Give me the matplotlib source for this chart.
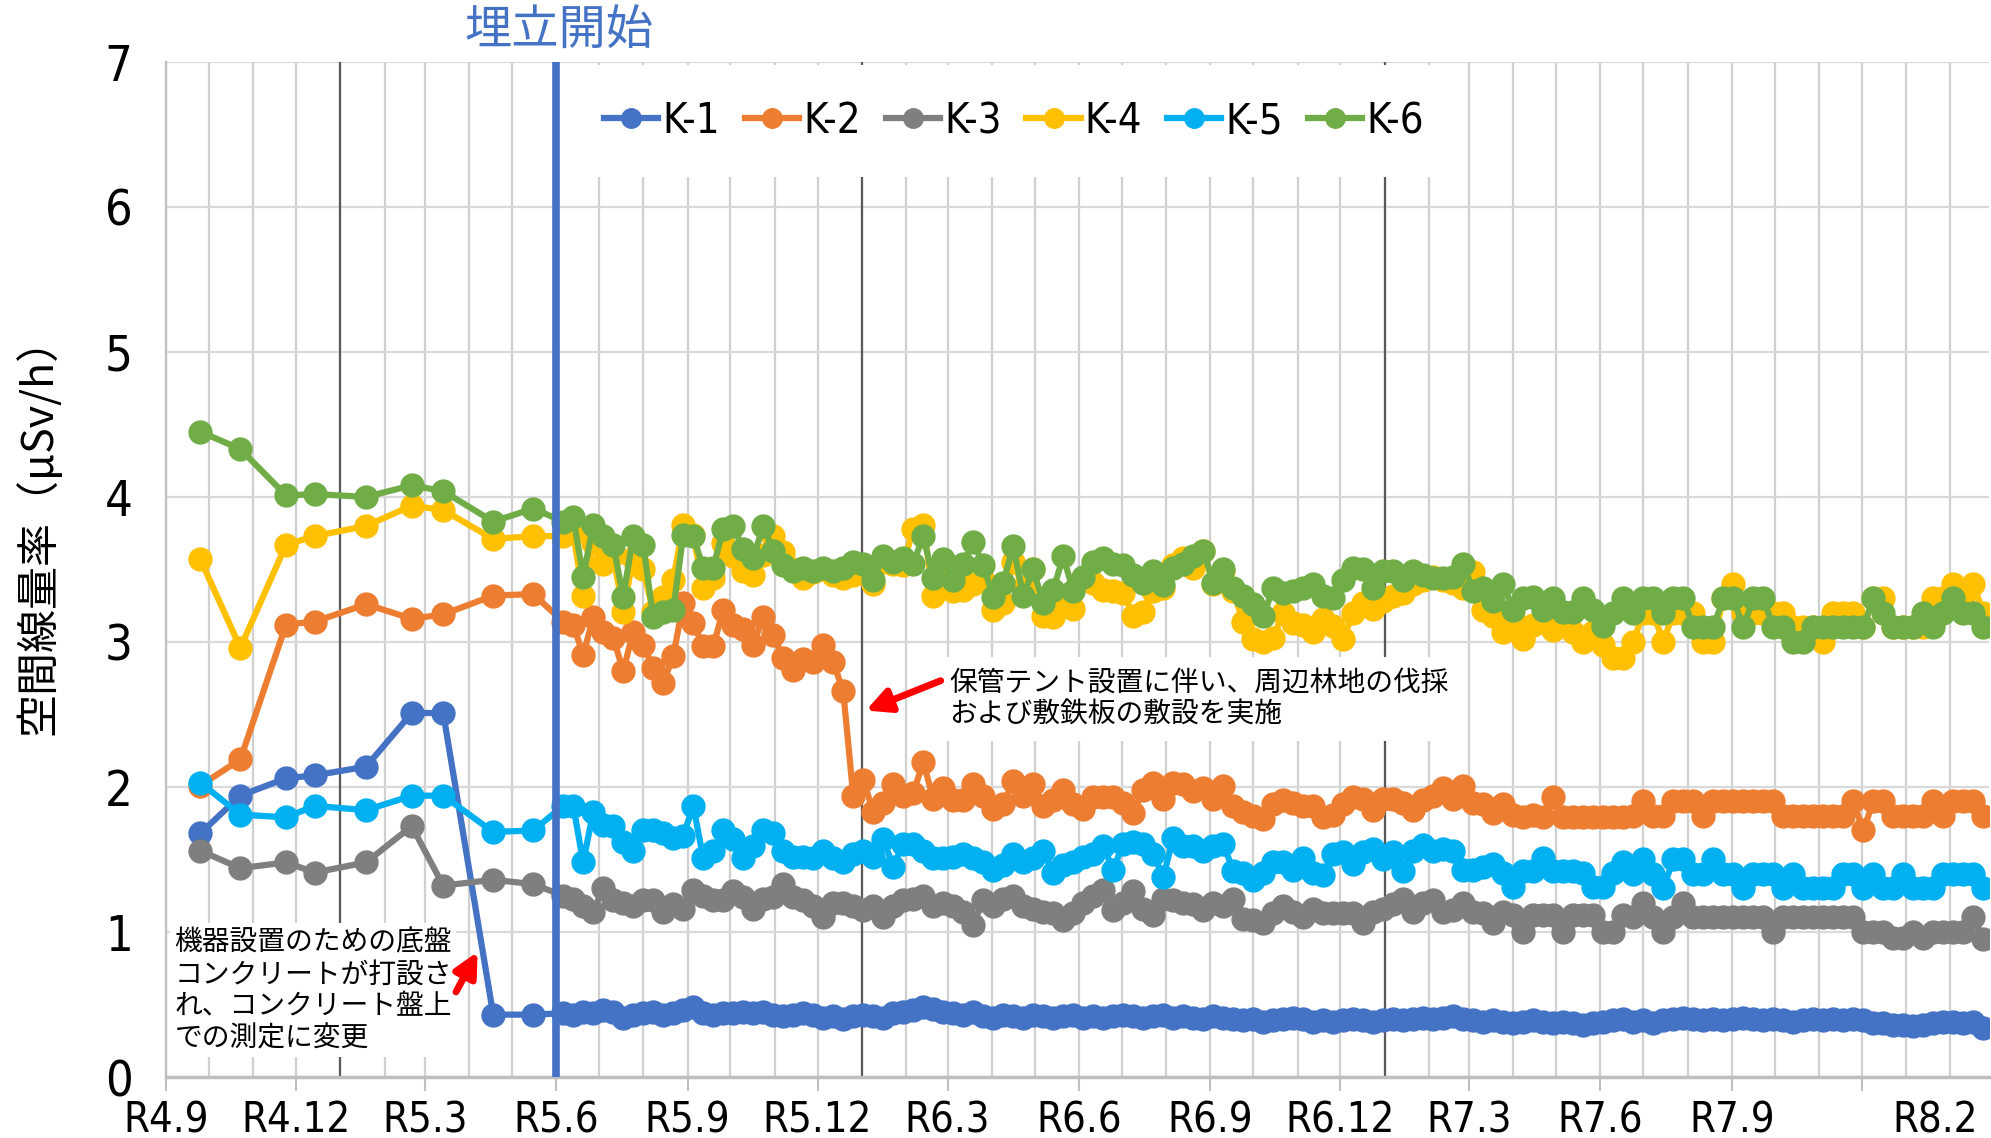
import numpy as np
import pandas as pd
import matplotlib
matplotlib.use('Agg')
import matplotlib.pyplot as plt
import matplotlib.dates as mdates
import matplotlib.transforms as mtransforms
from matplotlib.ticker import FuncFormatter
from matplotlib.font_manager import FontProperties

JP = ['Noto Sans CJK JP', 'DejaVu Sans']
plt.rcParams['font.family'] = JP


def numfont(size):
    # narrow face for digits / latin labels
    return FontProperties(family=['DejaVu Sans'], stretch='condensed', size=size)


# ---- data ----
names = ['K-1', 'K-2', 'K-3', 'K-4', 'K-5', 'K-6']
colors = ['#4472C4', '#ED7D31', '#7F7F7F', '#FFC000', '#00B0F0', '#70AD47']

# monthly measurements before landfill started
early_dates = ['2022-09-25', '2022-10-23', '2022-11-24', '2022-12-14', '2023-01-19',
               '2023-02-20', '2023-03-14', '2023-04-18', '2023-05-16']
# weekly measurements afterwards
weekly_start = '2023-06-06'
n_weekly = 143

k1_early = [1.68, 1.94, 2.06, 2.08, 2.14, 2.51, 2.51, 0.43, 0.43]
k2_early = [2.01, 2.19, 3.12, 3.14, 3.26, 3.16, 3.19, 3.32, 3.33]
k3_early = [1.56, 1.44, 1.48, 1.41, 1.48, 1.73, 1.32, 1.36, 1.33]
k4_early = [3.57, 2.96, 3.67, 3.73, 3.80, 3.94, 3.91, 3.71, 3.73]
k5_early = [2.03, 1.81, 1.79, 1.87, 1.84, 1.94, 1.94, 1.69, 1.70]
k6_early = [4.45, 4.33, 4.01, 4.02, 4.00, 4.08, 4.04, 3.83, 3.92]

k1_weekly = [
    0.44, 0.43, 0.45, 0.44, 0.46, 0.45, 0.41, 0.43, 0.44, 0.45, 0.43, 0.44, 0.46, 0.48, 0.44,
    0.43, 0.44, 0.44, 0.45, 0.44, 0.45, 0.43, 0.42, 0.43, 0.44, 0.43, 0.41, 0.42, 0.40, 0.42,
    0.43, 0.42, 0.41, 0.44, 0.45,
    0.46, 0.48, 0.47, 0.45, 0.44, 0.43, 0.45, 0.42, 0.41, 0.43, 0.42, 0.41, 0.43, 0.42, 0.41,
    0.42, 0.43, 0.41, 0.42, 0.41, 0.42, 0.43, 0.42, 0.41, 0.42, 0.43, 0.41, 0.42, 0.41, 0.40,
    0.42, 0.41, 0.40, 0.39, 0.40, 0.38,
    0.39, 0.40, 0.41, 0.40, 0.38, 0.39, 0.38, 0.39, 0.40, 0.39, 0.38, 0.39, 0.40, 0.39, 0.40,
    0.41, 0.40, 0.41, 0.42, 0.40, 0.39, 0.38, 0.39, 0.38, 0.37, 0.38, 0.39, 0.38, 0.37, 0.38,
    0.37, 0.36, 0.37, 0.38, 0.39, 0.40,
    0.38, 0.39, 0.37, 0.39, 0.40, 0.41, 0.40, 0.39, 0.40, 0.39, 0.40, 0.41, 0.40, 0.39, 0.40,
    0.39, 0.38, 0.39, 0.40, 0.39, 0.40, 0.39, 0.40, 0.39, 0.37, 0.37, 0.36, 0.36, 0.35, 0.36,
    0.37, 0.38, 0.38, 0.37, 0.38, 0.34]
k2_weekly = [
    3.14, 3.12, 2.91, 3.17, 3.07, 3.03, 2.80, 3.07, 2.98, 2.82, 2.72, 2.90, 3.27, 3.13, 2.97,
    2.97, 3.22, 3.12, 3.09, 2.98, 3.17, 3.05, 2.89, 2.81, 2.88, 2.86, 2.98, 2.86, 2.66, 1.94,
    2.05, 1.83, 1.89, 2.02, 1.94,
    1.96, 2.17, 1.92, 1.99, 1.91, 1.91, 2.02, 1.94, 1.85, 1.88, 2.04, 1.94, 2.02, 1.87, 1.91,
    1.98, 1.88, 1.85, 1.93, 1.93, 1.93, 1.89, 1.82, 1.98, 2.03, 1.92, 2.03, 2.02, 1.97, 1.99,
    1.92, 2.01, 1.87, 1.83, 1.80, 1.78,
    1.88, 1.91, 1.89, 1.87, 1.87, 1.79, 1.81, 1.88, 1.93, 1.92, 1.84, 1.92, 1.92, 1.89, 1.84,
    1.91, 1.94, 1.99, 1.92, 2.01, 1.89, 1.88, 1.82, 1.88, 1.81, 1.79, 1.81, 1.79, 1.93, 1.79,
    1.79, 1.79, 1.79, 1.79, 1.79, 1.79,
    1.8, 1.9, 1.8, 1.8, 1.9, 1.9, 1.9, 1.8, 1.9, 1.9, 1.9, 1.9, 1.9, 1.9, 1.9,
    1.8, 1.8, 1.8, 1.8, 1.8, 1.8, 1.8, 1.9, 1.7, 1.9, 1.9, 1.8, 1.8, 1.8, 1.8,
    1.9, 1.8, 1.9, 1.9, 1.9, 1.8]
k3_weekly = [
    1.25, 1.23, 1.18, 1.14, 1.30, 1.22, 1.20, 1.18, 1.22, 1.22, 1.14, 1.19, 1.16, 1.29, 1.25,
    1.22, 1.22, 1.28, 1.24, 1.16, 1.23, 1.24, 1.33, 1.24, 1.22, 1.18, 1.10, 1.20, 1.20, 1.18,
    1.15, 1.18, 1.10, 1.18, 1.22,
    1.23, 1.25, 1.18, 1.20, 1.18, 1.14, 1.05, 1.22, 1.18, 1.23, 1.25, 1.18, 1.16, 1.14, 1.13,
    1.08, 1.13, 1.20, 1.25, 1.29, 1.15, 1.20, 1.28, 1.16, 1.12, 1.23, 1.22, 1.20, 1.19, 1.15,
    1.20, 1.18, 1.23, 1.09, 1.08, 1.06,
    1.13, 1.18, 1.14, 1.10, 1.16, 1.13, 1.13, 1.13, 1.13, 1.06, 1.14, 1.16, 1.19, 1.23, 1.14,
    1.20, 1.22, 1.14, 1.15, 1.20, 1.14, 1.13, 1.06, 1.14, 1.12, 1.00, 1.12, 1.12, 1.12, 1.00,
    1.12, 1.12, 1.12, 1.00, 1.00, 1.12,
    1.1, 1.2, 1.1, 1.0, 1.1, 1.2, 1.1, 1.1, 1.1, 1.1, 1.1, 1.1, 1.1, 1.1, 1.0,
    1.1, 1.1, 1.1, 1.1, 1.1, 1.1, 1.1, 1.1, 1.0, 1.0, 1.0, 0.96, 0.96, 1.0, 0.96,
    1.0, 1.0, 1.0, 1.0, 1.1, 0.95]
k4_weekly = [
    3.73, 3.75, 3.32, 3.68, 3.54, 3.60, 3.21, 3.58, 3.50, 3.21, 3.31, 3.43, 3.81, 3.74, 3.37,
    3.44, 3.68, 3.59, 3.49, 3.46, 3.60, 3.73, 3.62, 3.50, 3.44, 3.48, 3.50, 3.46, 3.44, 3.46,
    3.48, 3.40, 3.55, 3.54, 3.53,
    3.78, 3.81, 3.32, 3.43, 3.35, 3.36, 3.40, 3.43, 3.22, 3.27, 3.55, 3.37, 3.50, 3.18, 3.17,
    3.27, 3.23, 3.43, 3.41, 3.36, 3.35, 3.34, 3.18, 3.21, 3.35, 3.37, 3.53, 3.58, 3.51, 3.63,
    3.40, 3.49, 3.35, 3.14, 3.02, 3.00,
    3.03, 3.20, 3.13, 3.12, 3.07, 3.16, 3.11, 3.02, 3.20, 3.27, 3.23, 3.28, 3.32, 3.34, 3.40,
    3.43, 3.45, 3.43, 3.41, 3.37, 3.48, 3.22, 3.18, 3.07, 3.17, 3.02, 3.12, 3.14, 3.08, 3.12,
    3.07, 3.00, 3.07, 2.98, 2.89, 2.89,
    3.0, 3.2, 3.2, 3.0, 3.2, 3.2, 3.2, 3.0, 3.0, 3.3, 3.4, 3.2, 3.2, 3.2, 3.2,
    3.2, 3.1, 3.1, 3.1, 3.0, 3.2, 3.2, 3.2, 3.1, 3.3, 3.3, 3.1, 3.1, 3.1, 3.1,
    3.3, 3.3, 3.4, 3.3, 3.4, 3.2]
k5_weekly = [
    1.87, 1.87, 1.48, 1.83, 1.74, 1.73, 1.62, 1.56, 1.70, 1.70, 1.68, 1.65, 1.66, 1.87, 1.51,
    1.56, 1.70, 1.64, 1.51, 1.59, 1.70, 1.68, 1.56, 1.52, 1.52, 1.51, 1.56, 1.51, 1.48, 1.54,
    1.56, 1.52, 1.64, 1.45, 1.61,
    1.61, 1.56, 1.51, 1.51, 1.52, 1.54, 1.51, 1.48, 1.43, 1.46, 1.54, 1.48, 1.51, 1.56, 1.41,
    1.46, 1.48, 1.52, 1.54, 1.59, 1.43, 1.61, 1.62, 1.61, 1.54, 1.38, 1.65, 1.59, 1.59, 1.56,
    1.59, 1.61, 1.42, 1.41, 1.36, 1.41,
    1.48, 1.48, 1.43, 1.51, 1.41, 1.39, 1.54, 1.55, 1.47, 1.55, 1.57, 1.50, 1.55, 1.42, 1.56,
    1.60, 1.56, 1.57, 1.56, 1.43, 1.43, 1.45, 1.47, 1.41, 1.31, 1.42, 1.42, 1.51, 1.42, 1.42,
    1.42, 1.41, 1.31, 1.31, 1.41, 1.48,
    1.4, 1.5, 1.4, 1.3, 1.5, 1.5, 1.4, 1.4, 1.5, 1.4, 1.4, 1.3, 1.4, 1.4, 1.4,
    1.3, 1.4, 1.3, 1.3, 1.3, 1.3, 1.4, 1.4, 1.3, 1.4, 1.3, 1.3, 1.4, 1.3, 1.3,
    1.3, 1.4, 1.4, 1.4, 1.4, 1.3]
k6_weekly = [
    3.83, 3.86, 3.45, 3.81, 3.73, 3.67, 3.31, 3.73, 3.67, 3.17, 3.21, 3.22, 3.74, 3.73, 3.51,
    3.51, 3.78, 3.80, 3.64, 3.58, 3.80, 3.63, 3.53, 3.49, 3.51, 3.49, 3.51, 3.49, 3.51, 3.55,
    3.54, 3.43, 3.59, 3.55, 3.58,
    3.54, 3.73, 3.44, 3.57, 3.43, 3.54, 3.69, 3.53, 3.31, 3.41, 3.66, 3.32, 3.50, 3.27, 3.36,
    3.59, 3.35, 3.45, 3.55, 3.58, 3.54, 3.53, 3.46, 3.41, 3.49, 3.39, 3.51, 3.54, 3.59, 3.63,
    3.41, 3.50, 3.37, 3.32, 3.26, 3.18,
    3.37, 3.34, 3.35, 3.37, 3.40, 3.32, 3.30, 3.43, 3.51, 3.50, 3.37, 3.49, 3.49, 3.43, 3.49,
    3.46, 3.44, 3.44, 3.45, 3.54, 3.35, 3.37, 3.28, 3.40, 3.22, 3.30, 3.31, 3.22, 3.30, 3.21,
    3.21, 3.30, 3.22, 3.11, 3.20, 3.30,
    3.2, 3.3, 3.3, 3.2, 3.3, 3.3, 3.1, 3.1, 3.1, 3.3, 3.3, 3.1, 3.3, 3.3, 3.1,
    3.1, 3.0, 3.0, 3.1, 3.1, 3.1, 3.1, 3.1, 3.1, 3.3, 3.2, 3.1, 3.1, 3.1, 3.2,
    3.1, 3.2, 3.3, 3.2, 3.2, 3.1]

early = [k1_early, k2_early, k3_early, k4_early, k5_early, k6_early]
weekly = [k1_weekly, k2_weekly, k3_weekly, k4_weekly, k5_weekly, k6_weekly]

landfill_start = '2023-06-01'
year_marks = ['2023-01-01', '2024-01-01', '2025-01-01']
x_start, x_end = '2022-09-01', '2026-02-28'

dates = pd.to_datetime(early_dates).append(pd.date_range(weekly_start, periods=n_weekly, freq='7D'))

# ---- figure ----
fig = plt.figure(figsize=(19.91, 11.38), dpi=100, facecolor='w')
ax = fig.add_axes([0.0834, 0.0536, 0.9156, 0.892])

for name, col, e, w in zip(names, colors, early, weekly):
    vals = list(e) + list(w)
    ax.plot(dates[:len(vals)], vals, color=col, lw=4.5, marker='o', ms=16.5,
            label=name, zorder=3)

ax.axvline(pd.Timestamp(landfill_start), color='#4472C4', lw=5.5, zorder=4)
for d in year_marks:
    ax.axvline(pd.Timestamp(d), color='#595959', lw=1.6, zorder=1)

ax.set_xlim(pd.Timestamp(x_start), pd.Timestamp(x_end))
ax.set_ylim(0, 7)
ax.set_yticks(range(0, 8))

ax.xaxis.set_major_locator(mdates.MonthLocator(bymonth=[3, 6, 9, 12]))
ax.xaxis.set_minor_locator(mdates.MonthLocator())


def reiwa(x, pos):
    d = mdates.num2date(x)
    if d.year == 2025 and d.month == 12:
        return ''
    return 'R%d.%d' % (d.year - 2018, d.month)


ax.xaxis.set_major_formatter(FuncFormatter(reiwa))
ax.grid(which='major', axis='y', color='#d9d9d9', lw=1.6, zorder=0)
ax.grid(which='both', axis='x', color='#d0d0d0', lw=1.6, zorder=0)
ax.set_axisbelow(True)

ax.tick_params(axis='x', which='major', length=10, width=1.5, color='#bfbfbf', pad=6)
ax.tick_params(axis='x', which='minor', length=0)
ax.tick_params(axis='y', length=0, pad=24)
for lab in ax.get_xticklabels():
    lab.set_fontproperties(numfont(30))
for lab in ax.get_yticklabels():
    lab.set_fontproperties(numfont(35))

# last label sits off the quarterly grid
trans = mtransforms.offset_copy(ax.get_xaxis_transform(), fig=fig, y=-16, units='points')
ax.text(pd.Timestamp('2026-01-21'), 0, 'R8.2', transform=trans, ha='center', va='top',
        fontproperties=numfont(30))

for s in ('top', 'right'):
    ax.spines[s].set_visible(False)
ax.spines['left'].set_color('#bfbfbf')
ax.spines['left'].set_linewidth(1.6)
ax.spines['bottom'].set_color('#bfbfbf')
ax.spines['bottom'].set_linewidth(2.5)

fig.text(38 / 1991, 1 - 525 / 1138, '空間線量率（μSv/h）', rotation=90,
         ha='center', va='center', fontsize=31)
fig.text(559 / 1991, 1 - 31 / 1138, '埋立開始', color='#4472C4',
         ha='center', va='center', fontsize=34)

leg = ax.legend(loc='center', bbox_to_anchor=(1014 / 1991, 1 - 121 / 1138),
                bbox_transform=fig.transFigure, ncol=6, frameon=True,
                prop=numfont(30), handlelength=1.3, markerscale=0.85,
                handletextpad=0.1, columnspacing=0.6, borderpad=0.85)
leg.get_frame().set_edgecolor('none')
leg.get_frame().set_facecolor('white')
leg.get_frame().set_alpha(1)
leg.set_zorder(6)

# annotations
ax.text(pd.Timestamp('2022-09-07'), 1.03,
        '機器設置のための底盤\nコンクリートが打設さ\nれ、コンクリート盤上\nでの測定に変更',
        ha='left', va='top', fontsize=20, linespacing=1.08, zorder=6,
        bbox=dict(boxstyle='square,pad=0.15', fc='white', ec='none'))
ax.annotate('', xy=(pd.Timestamp('2023-04-08'), 0.88),
            xytext=(pd.Timestamp('2023-03-22'), 0.57),
            arrowprops=dict(arrowstyle='-|>', color='red', lw=5, mutation_scale=36), zorder=6)

ax.text(pd.Timestamp('2024-03-02'), 2.82,
        '保管テント設置に伴い、周辺林地の伐採\nおよび敷鉄板の敷設を実施',
        ha='left', va='top', fontsize=20, linespacing=1.08, zorder=6,
        bbox=dict(boxstyle='square,pad=0.4', fc='white', ec='none'))
ax.annotate('', xy=(pd.Timestamp('2024-01-02'), 2.52),
            xytext=(pd.Timestamp('2024-02-27'), 2.74),
            arrowprops=dict(arrowstyle='-|>', color='red', lw=5, mutation_scale=36), zorder=6)

fig.savefig('out.png', dpi=100, facecolor='w')
